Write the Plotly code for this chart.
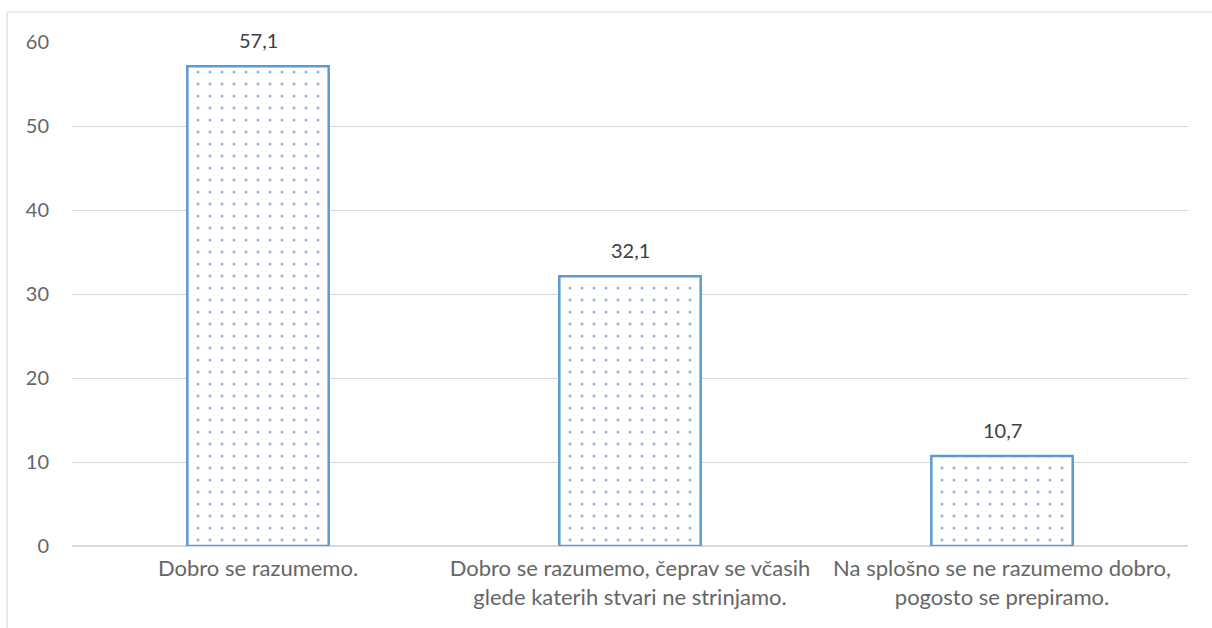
import plotly.graph_objects as go

categories = [
    "Dobro se razumemo.",
    "Dobro se razumemo, čeprav se včasih<br>glede katerih stvari ne strinjamo.",
    "Na splošno se ne razumemo dobro,<br>pogosto se prepiramo.",
]
values = [57.1, 32.1, 10.7]
value_labels = ["57,1", "32,1", "10,7"]
y_ticks = [0, 10, 20, 30, 40, 50, 60]

fig = go.Figure(go.Bar(
    x=categories,
    y=values,
    marker=dict(
        color="white",
        line=dict(color="#5B9BD5", width=2.5),
        pattern=dict(shape=".", fgcolor="#3A66C0", bgcolor="white", size=12, solidity=0.05),
    ),
    width=0.38,
    hoverinfo="x+y",
))

# value labels above bars
for cat, val, lab in zip(categories, values, value_labels):
    fig.add_annotation(x=cat, y=val, text=lab, showarrow=False, yanchor="bottom", yshift=12,
                       font=dict(size=20, color="#404040"))

fig.update_layout(
    width=1212,
    height=628,
    margin=dict(l=72, r=24, t=42, b=82),
    paper_bgcolor="white",
    plot_bgcolor="white",
    font=dict(family="Lato, Open Sans, sans-serif", size=20, color="#595959"),
    showlegend=False,
    xaxis=dict(showgrid=False, showline=False, ticks="", ticklabelstandoff=7,
               tickfont=dict(size=22, color="#666666")),
    yaxis=dict(
        range=[0, 60],
        tickvals=y_ticks,
        gridcolor="#D9D9D9",
        gridwidth=1,
        zeroline=True,
        zerolinecolor="#D9D9D9",
        zerolinewidth=1.5,
        showline=False,
        ticks="",
        ticklabelstandoff=22,
        tickfont=dict(size=20, color="#666666"),
    ),
    shapes=[
        dict(type="line", xref="paper", yref="paper", x0=-0.0582, x1=1.1, y0=1.0595, y1=1.0595,
             line=dict(color="#D9D9D9", width=1.2)),
        dict(type="line", xref="paper", yref="paper", x0=-0.0582, x1=-0.0582, y0=1.0595, y1=-0.3,
             line=dict(color="#D9D9D9", width=1.2)),
    ],
)

fig.write_html("out.html", config={"displayModeBar": False},
               post_script="document.body.style.margin='0';")
